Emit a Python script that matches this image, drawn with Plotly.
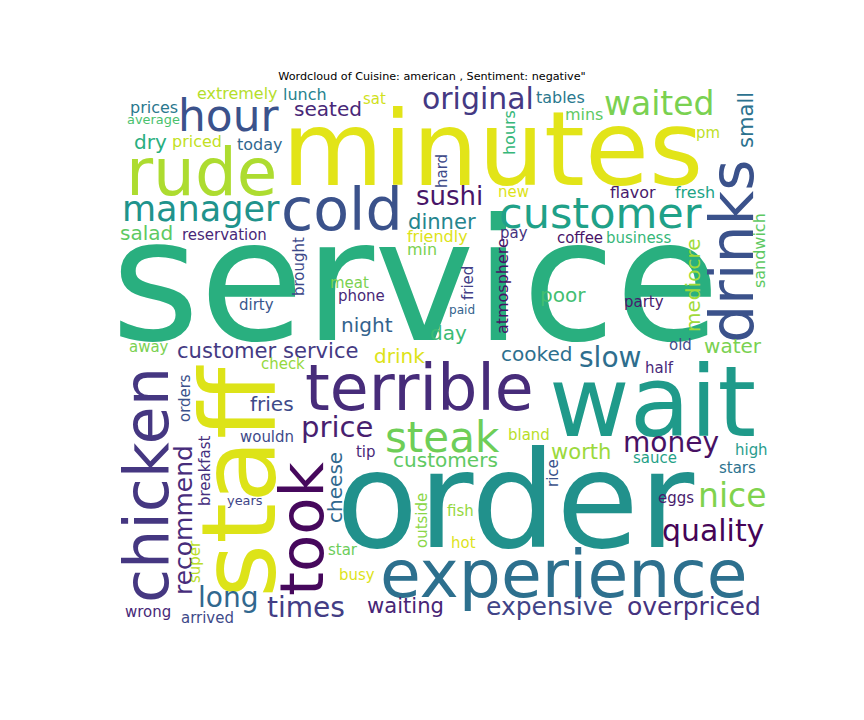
import plotly.graph_objs as go

# words and their relative weight (service = 1.0)
words = [
    "service", "order", "minutes", "staff", "wait", "experience", "rude", "terrible",
    "chicken", "took", "drinks", "cold", "customer", "hour", "steak", "manager",
    "nice", "waited", "original", "quality", "price", "slow", "money", "long",
    "times", "sushi", "recommend", "expensive", "overpriced", "customer service",
    "waiting", "dinner", "worth", "small", "seated", "dry", "salad", "night",
    "drink", "fries", "cheese", "customers", "day", "poor", "cooked", "water",
    "mediocre", "extremely", "lunch", "prices", "tables", "mins", "hours", "priced",
    "today", "flavor", "fresh", "friendly", "min", "sandwich", "atmosphere", "sat",
    "pm", "hard", "new", "reservation", "pay", "coffee", "business", "brought",
    "meat", "phone", "dirty", "fried", "party", "away", "check", "old",
    "half", "orders", "wouldn", "breakfast", "tip", "bland", "sauce", "high",
    "stars", "eggs", "rice", "fish", "hot", "outside", "star", "busy",
    "super", "wrong", "arrived", "years", "average", "paid",
]
weights = [
    1.000, 0.790, 0.612, 0.612, 0.580, 0.390, 0.388, 0.372,
    0.365, 0.359, 0.353, 0.345, 0.253, 0.258, 0.247, 0.206,
    0.194, 0.194, 0.176, 0.176, 0.171, 0.165, 0.165, 0.165,
    0.165, 0.153, 0.147, 0.147, 0.147, 0.124,
    0.124, 0.124, 0.124, 0.124, 0.118, 0.118, 0.118, 0.118,
    0.118, 0.118, 0.118, 0.118, 0.118, 0.118, 0.118, 0.118,
    0.118, 0.094, 0.094, 0.094, 0.094, 0.094, 0.094, 0.094,
    0.094, 0.094, 0.094, 0.094, 0.094, 0.094, 0.094, 0.088,
    0.088, 0.088, 0.088, 0.088, 0.088, 0.088, 0.088, 0.088,
    0.088, 0.088, 0.088, 0.088, 0.088, 0.088, 0.088, 0.088,
    0.088, 0.088, 0.088, 0.088, 0.088, 0.088, 0.088, 0.088,
    0.088, 0.088, 0.088, 0.088, 0.088, 0.088, 0.088, 0.088,
    0.088, 0.088, 0.088, 0.076, 0.076, 0.071,
]

# cloud layout (pixel centres on the page), orientation and colours
pos_x = [
    415, 515, 492, 239, 652, 563, 201, 419,
    146, 301, 732, 342, 600, 228, 442, 201,
    732, 659, 478, 713, 337, 610, 671, 228,
    306, 449, 183, 549, 694, 267,
    405, 442, 581, 745, 328, 150, 146, 367,
    399, 272, 335, 445, 448, 563, 537, 733,
    693, 237, 305, 154, 560, 584, 509, 197,
    259, 633, 695, 437, 422, 759, 502, 374,
    708, 442, 513, 224, 514, 580, 638, 299,
    349, 361, 256, 468, 644, 149, 283, 680,
    659, 185, 267, 205, 366, 529, 655, 751,
    737, 676, 553, 460, 463, 422, 343, 357,
    195, 148, 207, 245, 153, 462,
]
pos_y = [
    281, 500, 149, 482, 401, 574, 172, 388,
    485, 529, 252, 210, 213, 115, 437, 208,
    495, 103, 98, 530, 427, 357, 442, 597,
    607, 196, 520, 606, 606, 350,
    605, 221, 451, 120, 109, 142, 233, 325,
    356, 404, 488, 460, 333, 295, 354, 346,
    285, 93, 94, 107, 97, 114, 133, 141,
    144, 192, 192, 236, 249, 251, 286, 99,
    133, 171, 192, 235, 233, 238, 238, 267,
    283, 296, 305, 283, 302, 347, 364, 345,
    368, 398, 437, 471, 452, 435, 458, 450,
    468, 498, 473, 511, 543, 521, 550, 575,
    562, 612, 618, 500, 119, 310,
]
vertical = {"staff", "chicken", "took", "drinks", "recommend", "small", "cheese",
            "mediocre", "hours", "sandwich", "atmosphere", "hard", "brought",
            "fried", "orders", "breakfast", "rice", "outside", "super"}
colors = [
    "#29af7f", "#21918c", "#e2e418", "#dde318", "#1f9a8a", "#2d708e", "#addc30", "#472c7a",
    "#453781", "#46085c", "#3b528b", "#3b528b", "#1fa188", "#3b528b", "#6ece58", "#20938c",
    "#7fd34e", "#7ad151", "#443983", "#450457", "#481f70", "#2e6e8e", "#471164", "#31688e",
    "#433e85", "#481668", "#472d7b", "#414487", "#46337f", "#443a83",
    "#482576", "#25858e", "#9bd93c", "#2c728e", "#482878", "#29af7f", "#5ec962", "#33638d",
    "#dde318", "#3e4a89", "#31688e", "#5ec962", "#3bbb75", "#42be71", "#2d708e", "#7ad151",
    "#a0da39", "#b5de2b", "#26828e", "#2a788e", "#2a788e", "#5ec962", "#35b779", "#c2df23",
    "#31688e", "#481a6c", "#20a386", "#dde318", "#7ad151", "#5ec962", "#471365", "#d0e11c",
    "#bddf26", "#3e4a89", "#dde318", "#482878", "#46327e", "#481467", "#35b779", "#3e4989",
    "#7ad151", "#482878", "#39568c", "#424086", "#481a6c", "#7ad151", "#95d840", "#3e4c8a",
    "#482979", "#3b528b", "#3e4a89", "#46307e", "#482878", "#b8de29", "#1fa187", "#299c8d",
    "#2c728e", "#481a6c", "#3b528b", "#95d840", "#dde318", "#8bd646", "#6ccd5a", "#dde318",
    "#bade28", "#482878", "#3e4a89", "#3f4788", "#4ac16d", "#33638d",
]

MAX_FONT = 170
PAGE_PAD = 8  # body margin of the html page
W, H = 864 - 2 * PAGE_PAD, 720 - 2 * PAGE_PAD

fig = go.Figure()
fig.add_trace(go.Scatter(x=[PAGE_PAD, W + PAGE_PAD], y=[PAGE_PAD, H + PAGE_PAD], mode="markers",
                         marker=dict(opacity=0), hoverinfo="skip", showlegend=False))

for w, wt, x, y, c in zip(words, weights, pos_x, pos_y, colors):
    fig.add_annotation(
        x=x, y=y, xref="x", yref="y", text=w, showarrow=False,
        textangle=-90 if w in vertical else 0,
        font=dict(family="DejaVu Sans", size=wt * MAX_FONT, color=c),
        xanchor="center", yanchor="middle",
    )

fig.update_layout(
    width=W, height=H,
    margin=dict(l=0, r=0, t=0, b=0),
    paper_bgcolor="white", plot_bgcolor="white",
    title=dict(text='Wordcloud of Cuisine: american , Sentiment: negative"',
               x=(432 - PAGE_PAD) / W, xanchor="center",
               y=1 - (76 - PAGE_PAD) / H, yanchor="middle",
               font=dict(family="DejaVu Sans", size=11.2, color="black")),
    xaxis=dict(range=[PAGE_PAD, W + PAGE_PAD], visible=False, fixedrange=True),
    yaxis=dict(range=[H + PAGE_PAD, PAGE_PAD], visible=False, fixedrange=True),
    showlegend=False,
)

fig.write_html("out.html")
